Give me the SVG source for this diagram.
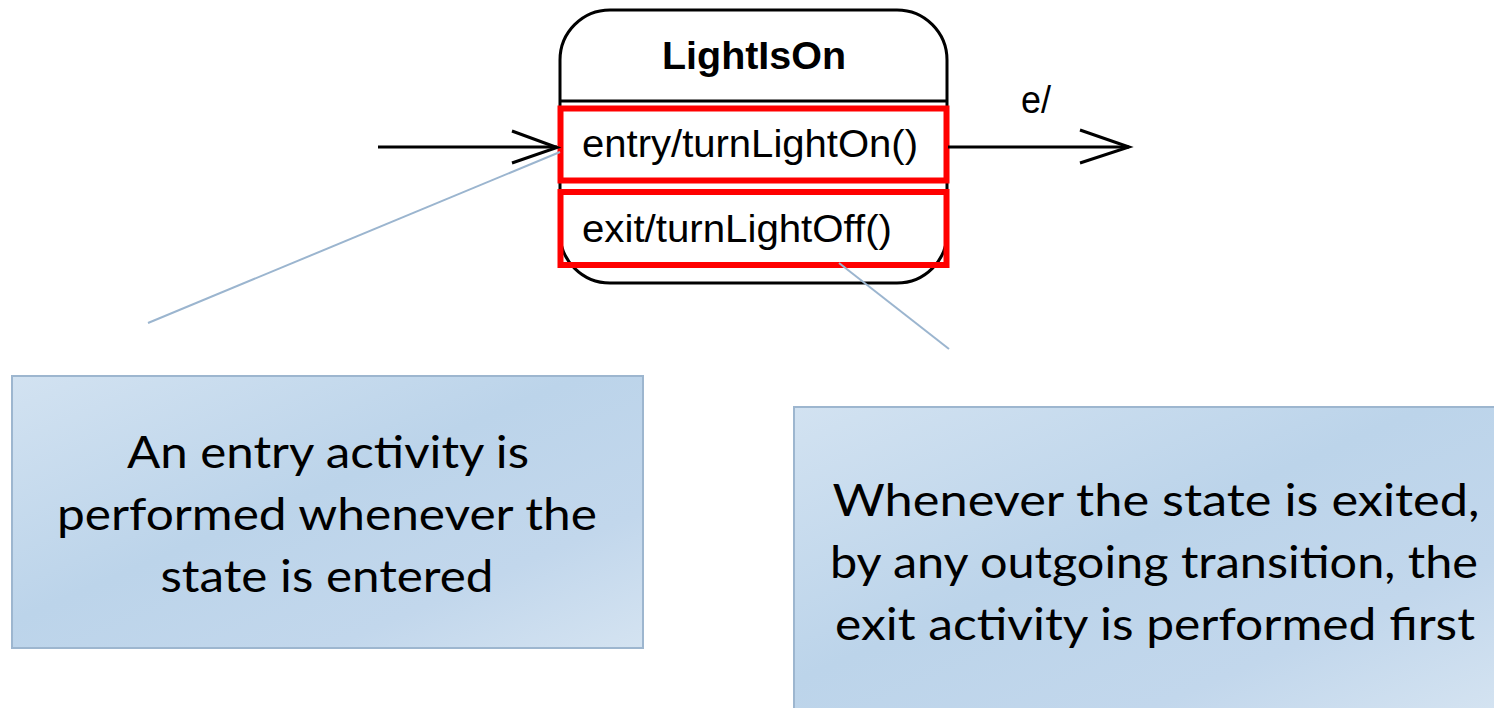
<svg xmlns="http://www.w3.org/2000/svg" width="1494" height="708" viewBox="0 0 1494 708">
  <defs>
    <linearGradient id="noteFill" x1="0" y1="0" x2="1" y2="1">
      <stop offset="0" stop-color="#d2e2f1"/>
      <stop offset="0.45" stop-color="#bcd4ea"/>
      <stop offset="0.75" stop-color="#c2d7ec"/>
      <stop offset="1" stop-color="#d4e3f1"/>
    </linearGradient>
    <style>
      .state { fill: #ffffff; stroke: #000000; stroke-width: 3; }
      .divider { stroke: #000000; stroke-width: 3; }
      .hilite { fill: none; stroke: #ff0000; stroke-width: 6; }
      .uml { font-family: "Liberation Sans", Arial, sans-serif; font-size: 38px; fill: #000000; }
      .title { font-weight: bold; }
      .edge { fill: none; stroke: #000000; stroke-width: 3; }
      .pointer { stroke: #9bb5cf; stroke-width: 2; fill: none; }
      .note { fill: url(#noteFill); stroke: #9db6cf; stroke-width: 2; }
      .noteText { font-family: Lato, "Open Sans", sans-serif; font-size: 45px; fill: #000000; text-anchor: middle; }
    </style>
  </defs>

  <!-- state LightIsOn -->
  <g id="state-LightIsOn">
    <rect class="state" x="560" y="10" width="387" height="273" rx="50" ry="50"/>
    <line class="divider" x1="560" y1="101" x2="947" y2="101"/>
    <text class="uml title" x="754" y="69" text-anchor="middle" textLength="184" lengthAdjust="spacingAndGlyphs">LightIsOn</text>
    <rect id="entry-compartment" class="hilite" x="560.5" y="108.5" width="386" height="72"/>
    <text class="uml" x="582" y="157" textLength="336" lengthAdjust="spacingAndGlyphs">entry/turnLightOn()</text>
    <rect id="exit-compartment" class="hilite" x="560.5" y="192" width="386" height="73"/>
    <text class="uml" x="582" y="242" textLength="310" lengthAdjust="spacingAndGlyphs">exit/turnLightOff()</text>
  </g>

  <!-- transitions -->
  <g id="connectors">
    <path class="edge" d="M378 147 H557"/>
    <path class="edge" d="M512 131 L557 147.5 L512 163"/>
    <path class="edge" d="M948 147 H1129"/>
    <path class="edge" d="M1080 130 L1129 147 L1080 163"/>
    <text class="uml" x="1021" y="113" textLength="30" lengthAdjust="spacingAndGlyphs">e/</text>
  </g>

  <!-- callout pointer lines -->
  <g id="pointers">
    <line class="pointer" x1="148" y1="323" x2="560" y2="152"/>
    <line class="pointer" x1="839" y1="263" x2="949" y2="349"/>
  </g>

  <!-- note: entry activity -->
  <g id="note-entry">
    <rect class="note" x="12" y="376" width="631" height="272"/>
    <text class="noteText" x="328" y="468" textLength="402" lengthAdjust="spacingAndGlyphs">An entry activity is</text>
    <text class="noteText" x="327" y="530" textLength="540" lengthAdjust="spacingAndGlyphs">performed whenever the</text>
    <text class="noteText" x="327" y="592" textLength="333" lengthAdjust="spacingAndGlyphs">state is entered</text>
  </g>

  <!-- note: exit activity -->
  <g id="note-exit">
    <rect class="note" x="794" y="407" width="702" height="304"/>
    <text class="noteText" x="1156" y="516" textLength="647" lengthAdjust="spacingAndGlyphs">Whenever the state is exited,</text>
    <text class="noteText" x="1154" y="578" textLength="648" lengthAdjust="spacingAndGlyphs">by any outgoing transition, the</text>
    <text class="noteText" x="1155" y="640" textLength="640" lengthAdjust="spacingAndGlyphs">exit activity is performed first</text>
  </g>
</svg>
